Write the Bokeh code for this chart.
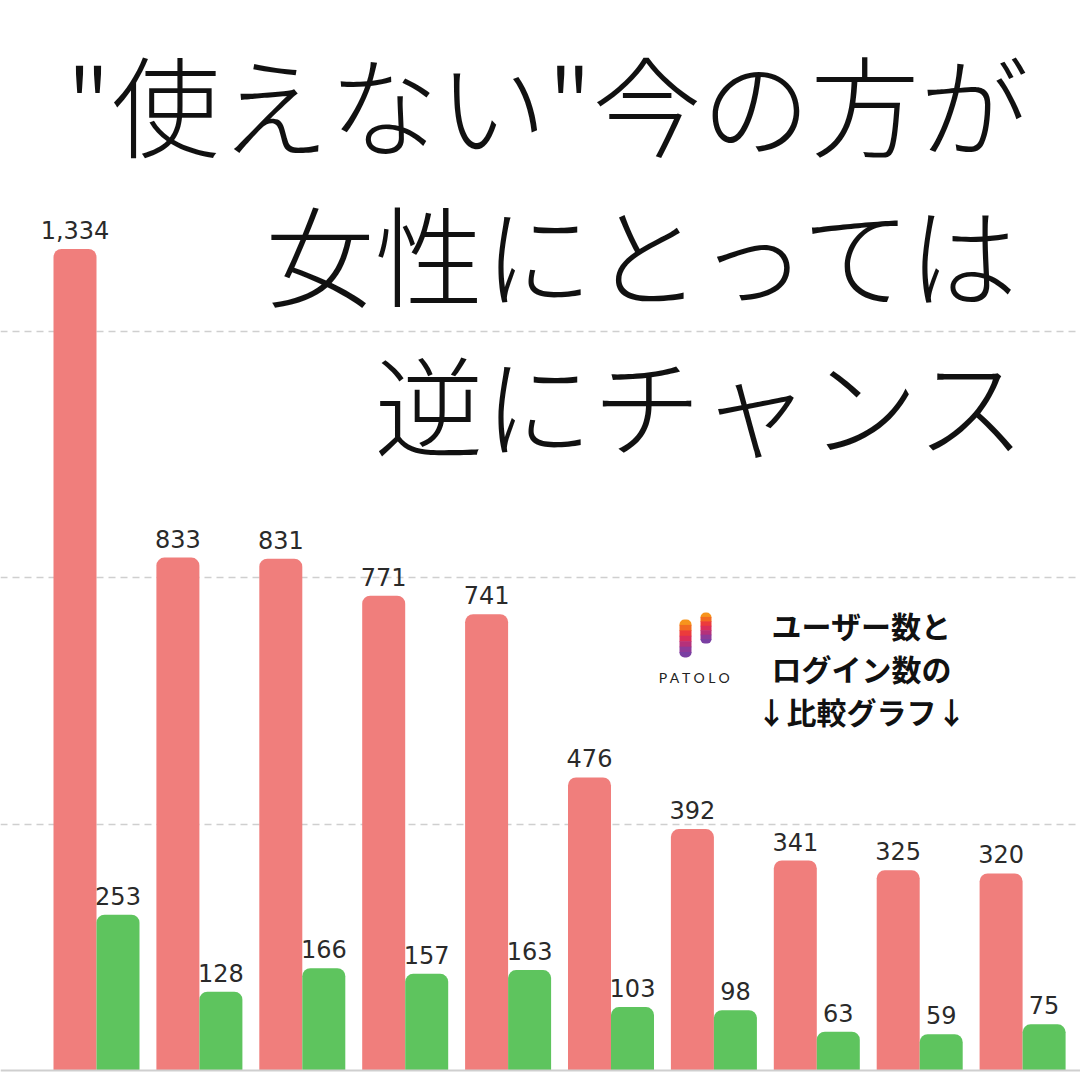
from bokeh.plotting import figure
from bokeh.models import Range1d, Span, Label, ColumnDataSource, FixedTicker, LabelSet
from bokeh.core.properties import value
from bokeh.embed import file_html
from bokeh.resources import INLINE

# ---- data ----
categories = ["1", "2", "3", "4", "5", "6", "7", "8", "9", "10"]
users = [1334, 833, 831, 771, 741, 476, 392, 341, 325, 320]
logins = [253, 128, 166, 157, 163, 103, 98, 63, 59, 75]
grid_ticks = [400, 800, 1200]
title_lines = ['"使えない"今の方が', '女性にとっては', '逆にチャンス']
note_lines = ["ユーザー数と", "ログイン数の", "↓比較グラフ↓"]

RED = "#F07E7C"
GREEN = "#5EC45E"

W = H = 1080
PX_PER_UNIT_Y = 0.6158
BASE_PX = 1070
GROUP_PX = 102.9
G0_PX = 96

y_start = (BASE_PX - H) / PX_PER_UNIT_Y
y_end = BASE_PX / PX_PER_UNIT_Y
x_start = -G0_PX / GROUP_PX
x_end = x_start + W / GROUP_PX

p = figure(width=W, height=H, output_backend="svg", toolbar_location=None,
           x_range=Range1d(x_start, x_end), y_range=Range1d(y_start, y_end),
           min_border=0, outline_line_color=None, background_fill_color="white",
           border_fill_color="white")
p.xaxis.visible = False
p.yaxis.visible = False
p.xgrid.visible = False
p.yaxis.ticker = FixedTicker(ticks=grid_ticks)
p.ygrid.grid_line_color = "#CFCFCF"
p.ygrid.grid_line_dash = "7 5"
p.ygrid.grid_line_width = 1.5

xs = list(range(len(categories)))
bw = 43 / GROUP_PX
src = ColumnDataSource(dict(
    xr=[x - bw / 2 for x in xs], xg=[x + bw / 2 for x in xs],
    users=users, logins=logins,
    ul=[f"{v:,}" for v in users], ll=[f"{v:,}" for v in logins]))

p.vbar(x="xr", top="users", bottom=0, width=bw, source=src, fill_color=RED,
       line_color=None, border_radius=(8, 8, 0, 0))
p.vbar(x="xg", top="logins", bottom=0, width=bw, source=src, fill_color=GREEN,
       line_color=None, border_radius=(8, 8, 0, 0))

for xcol, ycol, tcol in (("xr", "users", "ul"), ("xg", "logins", "ll")):
    p.add_layout(LabelSet(x=xcol, y=ycol, text=tcol, source=src, text_align="center",
                          text_baseline="alphabetic", y_offset=10,
                          text_font=value("DejaVu Sans"), text_font_size=value("24px"),
                          text_color="#2a2a2a"))

p.add_layout(Span(location=0, dimension="width", line_color="#CFCFCF", line_width=2))

# ---- title ----
for i, t in enumerate(title_lines):
    p.add_layout(Label(x=1028, y=H - (101 + 150 * i), x_units="screen", y_units="screen",
                       text=t, text_align="right", text_baseline="middle",
                       text_font="'Noto Sans CJK JP Light', 'Noto Sans CJK JP', sans-serif",
                       text_font_size="109px", text_color="#111111"))

# ---- note ----
for i, t in enumerate(note_lines):
    p.add_layout(Label(x=861, y=H - (624 + 43 * i), x_units="screen", y_units="screen",
                       text=t, text_align="center", text_baseline="middle",
                       text_font="'Noto Sans CJK JP', sans-serif", text_font_size="30px",
                       text_font_style="bold", text_color="#111111"))

# ---- logo ----
def px2x(px):
    return x_start + px / GROUP_PX

def px2y(py):
    return (BASE_PX - py) / PX_PER_UNIT_Y

grad = ["#F7941D", "#F26A21", "#EC3B3B", "#D92E5A", "#B5317A", "#8E3A98", "#7A3FA2"]

def pill(x0, x1, y0, y1):
    n = len(grad)
    h = (y1 - y0) / n
    for k, c in enumerate(grad):
        top = y0 + k * h
        bot = top + h + (0.6 if k < n - 1 else 0)
        r = (5, 5, 0, 0) if k == 0 else ((0, 0, 5, 5) if k == n - 1 else 0)
        p.vbar(x=[px2x((x0 + x1) / 2)], top=[px2y(top)], bottom=[px2y(bot)],
               width=(x1 - x0) / GROUP_PX, fill_color=c, line_color=None,
               border_radius=r)

pill(679, 691, 619, 657)
pill(700, 711, 612, 643)

p.add_layout(Label(x=695, y=H - 677, x_units="screen", y_units="screen",
                   text="P A T O L O", text_align="center", text_baseline="middle",
                   text_font="Lato", text_font_size="14px", text_color="#222222"))

open("out.html", "w").write(file_html(p, INLINE))
